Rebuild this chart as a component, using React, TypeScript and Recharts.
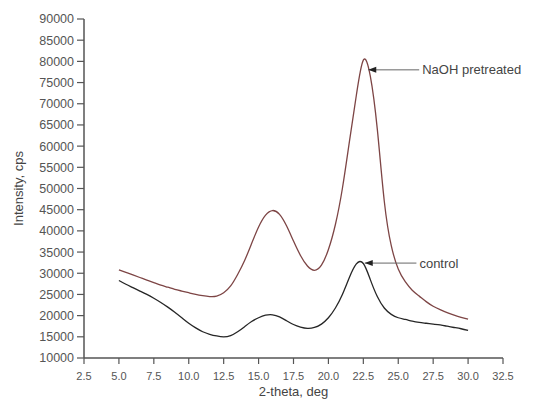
import React from 'react';
import { LineChart, Line, XAxis, YAxis, ReferenceLine } from 'recharts';

const twoTheta = [
  5, 5.5, 6, 6.5, 7, 7.5, 8, 8.5, 9, 9.5, 10, 10.5, 11, 11.5, 12, 12.5, 13, 13.5, 14, 14.5,
  15, 15.5, 16, 16.5, 17, 17.5, 18, 18.5, 19, 19.5, 20, 20.5, 21, 21.5, 22, 22.5, 23, 23.5,
  24, 24.5, 25, 25.5, 26, 26.5, 27, 27.5, 28, 28.5, 29, 29.5, 30,
];

const naohPretreated = [
  30800, 30200, 29600, 29000, 28400, 27800, 27200, 26700, 26200, 25800, 25400, 25000, 24700,
  24500, 24600, 25400, 27000, 29700, 33000, 37000, 40900, 43700, 44800, 43900, 41200, 37600,
  34200, 31700, 30700, 31900, 35600, 41500, 50000, 61000, 72000, 80300, 76500, 64000, 47000,
  36500, 31000, 28000, 26000, 24600, 23300, 22200, 21400, 20700, 20100, 19600, 19200,
];

const control = [
  28300, 27400, 26600, 25800, 25000, 24100, 23100, 22000, 20800, 19500, 18200, 17100, 16200,
  15600, 15200, 15000, 15300, 16200, 17400, 18600, 19500, 20100, 20200, 19700, 18800, 17900,
  17300, 17000, 17200, 18000, 19500, 21800, 25000, 29000, 32200, 32300, 28500, 24500, 21800,
  20300, 19500, 19100, 18700, 18400, 18200, 18000, 17800, 17500, 17200, 16900, 16500,
];

const xTicks = [2.5, 5, 7.5, 10, 12.5, 15, 17.5, 20, 22.5, 25, 27.5, 30, 32.5];
const xMinorTicks = [3.75, 6.25, 8.75, 11.25, 13.75, 16.25, 18.75, 21.25, 23.75, 26.25, 28.75, 31.25];
const yTicks = [10000, 15000, 20000, 25000, 30000, 35000, 40000, 45000, 50000, 55000, 60000, 65000, 70000, 75000, 80000, 85000, 90000];
const yMinorTicks = [12500, 17500, 22500, 27500, 32500, 37500, 42500, 47500, 52500, 57500, 62500, 67500, 72500, 77500, 82500, 87500];

const data = twoTheta.map((t, i) => ({ t, naoh: naohPretreated[i], control: control[i] }));

const FONT = '"Liberation Sans", Arial, sans-serif';
const AXIS = '#555';

const Annotation = (props: any) => {
  const { x1, y1, x2, y2, text } = props;
  return (
    <g>
      <line x1={x1} y1={y1} x2={x2} y2={y2} stroke="#666" strokeWidth={1} />
      <polygon points={`${x1},${y1} ${x1 + 8},${y1 - 3} ${x1 + 8},${y1 + 3}`} fill="#222" />
      <text x={x2 + 3} y={y2} dominantBaseline="central" fontSize={13} fontFamily={FONT} fill="#444">
        {text}
      </text>
    </g>
  );
};

export default function App() {
  return (
    <div style={{ position: 'absolute', left: 0, top: 0, background: '#fff' }}>
      <LineChart width={549} height={407} data={data} margin={{ top: 19, right: 46, left: 0, bottom: 0 }}>
        <XAxis
          xAxisId="minor"
          dataKey="t"
          type="number"
          domain={[2.5, 32.5]}
          ticks={xMinorTicks}
          tick={false}
          tickSize={3}
          axisLine={false}
          tickLine={{ stroke: AXIS, strokeWidth: 1.2 }}
          height={0}
        />
        <XAxis
          xAxisId="major"
          dataKey="t"
          type="number"
          domain={[2.5, 32.5]}
          ticks={xTicks}
          tickFormatter={(v: number) => v.toFixed(1)}
          tick={{ fill: AXIS, fontSize: 11, fontFamily: FONT }}
          tickSize={6}
          tickMargin={8}
          axisLine={{ stroke: AXIS, strokeWidth: 1.5 }}
          tickLine={{ stroke: AXIS, strokeWidth: 1.2 }}
          height={49}
          label={{ value: '2-theta, deg', position: 'insideBottom', offset: 11, fill: '#444', fontSize: 13, fontFamily: FONT }}
        />
        <YAxis
          yAxisId="minor"
          type="number"
          domain={[10000, 90000]}
          ticks={yMinorTicks}
          tick={false}
          tickSize={3}
          axisLine={false}
          tickLine={{ stroke: AXIS, strokeWidth: 1.2 }}
          width={0}
        />
        <YAxis
          yAxisId="major"
          type="number"
          domain={[10000, 90000]}
          ticks={yTicks}
          tick={{ fill: AXIS, fontSize: 12.5, fontFamily: FONT }}
          tickSize={7}
          tickMargin={3}
          axisLine={{ stroke: AXIS, strokeWidth: 1.5 }}
          tickLine={{ stroke: AXIS, strokeWidth: 1.2 }}
          width={84}
          label={{ value: 'Intensity, cps', angle: -90, position: 'insideLeft', offset: 18, textAnchor: 'middle', fill: '#444', fontSize: 13, fontFamily: FONT }}
        />
        <Line
          xAxisId="major"
          yAxisId="major"
          type="natural"
          dataKey="naoh"
          stroke="#7d4545"
          strokeWidth={1.3}
          dot={false}
          isAnimationActive={false}
        />
        <Line
          xAxisId="major"
          yAxisId="major"
          type="natural"
          dataKey="control"
          stroke="#262626"
          strokeWidth={1.3}
          dot={false}
          isAnimationActive={false}
        />
        <ReferenceLine
          xAxisId="major"
          yAxisId="major"
          segment={[{ x: 22.85, y: 78000 }, { x: 26.5, y: 78000 }]}
          shape={(p: any) => <Annotation {...p} text="NaOH pretreated" />}
        />
        <ReferenceLine
          xAxisId="major"
          yAxisId="major"
          segment={[{ x: 22.6, y: 32400 }, { x: 26.3, y: 32400 }]}
          shape={(p: any) => <Annotation {...p} text="control" />}
        />
      </LineChart>
    </div>
  );
}
